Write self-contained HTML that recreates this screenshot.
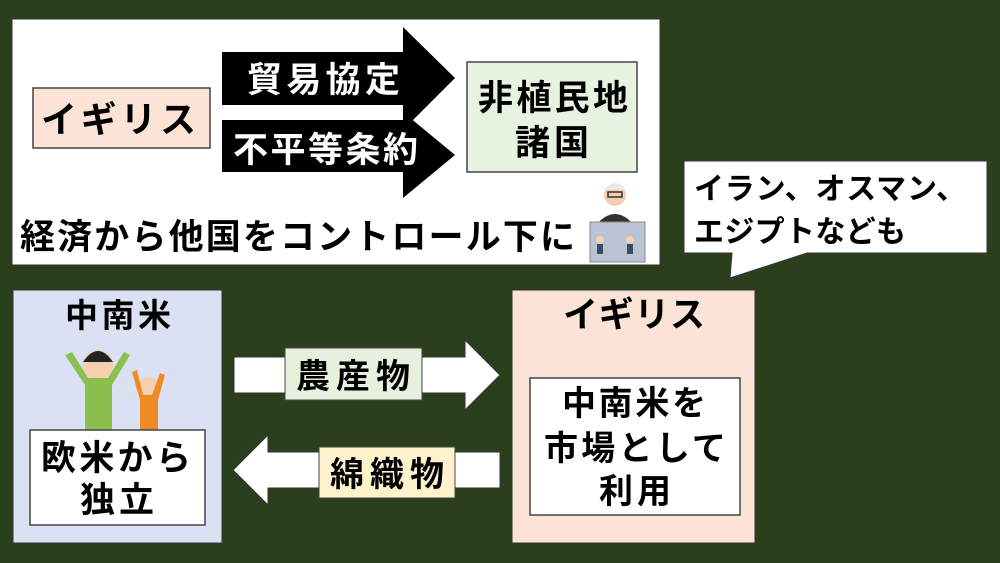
<!DOCTYPE html>
<html><head><meta charset="utf-8"><style>
html,body{margin:0;padding:0;background:#2a3f1c;}
svg{display:block}
text{font-family:"Liberation Sans","Noto Sans CJK JP",sans-serif;font-weight:bold;fill:#000}
</style></head><body>
<svg width="1000" height="563" viewBox="0 0 1000 563" xmlns="http://www.w3.org/2000/svg">
<rect width="1000" height="563" fill="#2a3f1c"/>
<!-- top panel -->
<rect x="12" y="19" width="648" height="246" fill="#fff" stroke="#333" stroke-width="1"/>
<rect x="33" y="88" width="177" height="60" fill="#fbe4d6" stroke="#444" stroke-width="1.5"/>
<text x="41" y="132" font-size="36" textLength="155" lengthAdjust="spacing">イギリス</text>
<polygon points="222,52 403,52 403,27 455,78 403,130 403,105 222,105" fill="#000"/>
<text x="247" y="92" font-size="35" textLength="153" lengthAdjust="spacing" style="fill:#fff">貿易協定</text>
<polygon points="222,120 403,120 403,112 455,155 403,198 403,172 222,172" fill="#000"/>
<text x="233" y="162" font-size="35" textLength="185" lengthAdjust="spacing" style="fill:#fff">不平等条約</text>
<rect x="467" y="62" width="170" height="110" fill="#e8f2e0" stroke="#444" stroke-width="1.5"/>
<text x="478" y="110" font-size="35" textLength="150" lengthAdjust="spacing">非植民地</text>
<text x="515" y="155" font-size="35" textLength="74" lengthAdjust="spacing">諸国</text>
<text x="20" y="249" font-size="35" textLength="555" lengthAdjust="spacing">経済から他国をコントロール下に</text>
<!-- icon -->
<g>
<circle cx="615" cy="195" r="11" fill="#f6cfae"/>
<path d="M604 190 Q615 176 626 190 Z" fill="#e9e9e9"/>
<rect x="608" y="192" width="14" height="5" fill="none" stroke="#333" stroke-width="1.5"/>
<path d="M596 225 Q615 203 634 225 Z" fill="#333"/>
<rect x="590" y="222" width="55" height="40" fill="#b9c3d3" stroke="#888"/>
<circle cx="600" cy="240" r="4" fill="#f6cfae"/><rect x="597" y="244" width="6" height="10" fill="#3a4a6a"/>
<circle cx="630" cy="240" r="4" fill="#f6cfae"/><rect x="627" y="244" width="6" height="10" fill="#3a4a6a"/>
</g>
<!-- callout -->
<polygon points="684,161 987,161 987,253 807,253 730,278 732,253 684,253" fill="#fff" stroke="#333" stroke-width="1"/>
<text x="694" y="199" font-size="30" textLength="272" lengthAdjust="spacing">イラン、オスマン、</text>
<text x="694" y="242" font-size="30" textLength="212" lengthAdjust="spacing">エジプトなども</text>
<!-- bottom left -->
<rect x="13" y="290" width="209" height="253" fill="#d9e1f2" stroke="#333" stroke-width="1"/>
<text x="65" y="327" font-size="33" textLength="106" lengthAdjust="spacing">中南米</text>
<g>
<circle cx="98" cy="365" r="15" fill="#f6cfae"/><path d="M83 362 Q98 340 113 362 Z" fill="#222"/>
<path d="M65 355 L85 385 L85 430 L112 430 L112 385 L130 355 L124 352 L108 378 L88 378 L72 352 Z" fill="#8cbf4e"/>
<circle cx="148" cy="388" r="11" fill="#f6cfae"/>
<path d="M132 372 L140 400 L140 430 L158 430 L158 400 L165 375 L160 373 L152 395 L143 395 L137 370 Z" fill="#f08a24"/>
</g>
<rect x="30" y="430" width="175" height="95" fill="#fff" stroke="#444" stroke-width="1.5"/>
<text x="41" y="470" font-size="35" textLength="150" lengthAdjust="spacing">欧米から</text>
<text x="80" y="512" font-size="35" textLength="74" lengthAdjust="spacing">独立</text>
<!-- arrows -->
<polygon points="234,357 465,357 465,340 500,375 465,410 465,393 234,393" fill="#fff" stroke="#333" stroke-width="1"/>
<rect x="285" y="348" width="137" height="52" fill="#e6f0dc" stroke="#444" stroke-width="1"/>
<text x="296" y="388" font-size="34" textLength="114" lengthAdjust="spacing">農産物</text>
<polygon points="500,452 268,452 268,435 233,470 268,505 268,488 500,488" fill="#fff" stroke="#333" stroke-width="1"/>
<rect x="319" y="447" width="136" height="51" fill="#fdf2cc" stroke="#444" stroke-width="1"/>
<text x="330" y="486" font-size="34" textLength="114" lengthAdjust="spacing">綿織物</text>
<!-- bottom right -->
<rect x="512" y="290" width="243" height="253" fill="#fbe4d6" stroke="#333" stroke-width="1"/>
<text x="563" y="327" font-size="35" textLength="142" lengthAdjust="spacing">イギリス</text>
<rect x="530" y="378" width="210" height="137" fill="#fff" stroke="#444" stroke-width="1.5"/>
<text x="562" y="415" font-size="34" textLength="144" lengthAdjust="spacing">中南米を</text>
<text x="544" y="460" font-size="34" textLength="182" lengthAdjust="spacing">市場として</text>
<text x="599" y="503" font-size="34" textLength="72" lengthAdjust="spacing">利用</text>
</svg>
</body></html>
